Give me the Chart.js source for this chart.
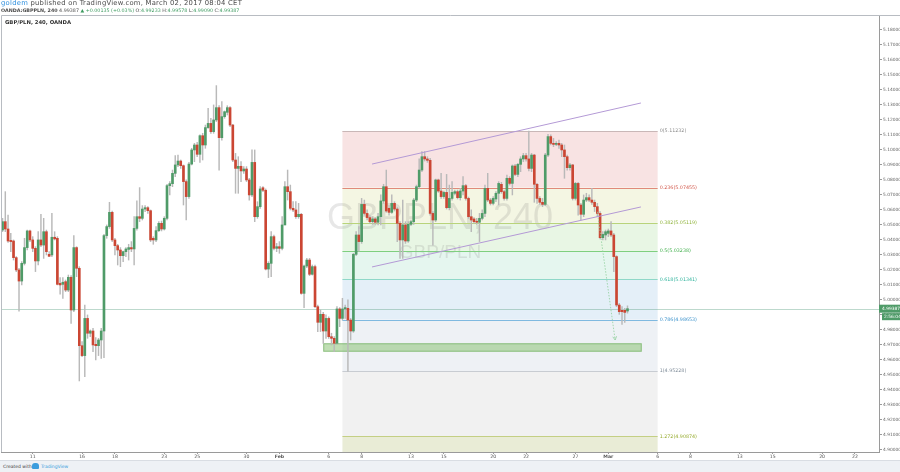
<!DOCTYPE html>
<html>
<head>
<meta charset="utf-8">
<script src="https://cdn.jsdelivr.net/npm/chart.js@4.4.0/dist/chart.umd.min.js"></script>
<style>
html,body{margin:0;padding:0;width:900px;height:472px;overflow:hidden;background:#fff;}
#hdr1,#hdr2,#sym{position:absolute;white-space:nowrap;font-family:"DejaVu Sans",sans-serif;color:#4a4a4a;}
#hdr1{left:1px;top:0px;font-size:6.8px;line-height:7px;letter-spacing:0.26px;}
#hdr2{left:1px;top:7px;font-size:4.8px;line-height:7px;}
#sym{left:5px;top:19px;font-size:5.3px;line-height:6px;font-weight:bold;color:#333;}
.g{color:#3c9a5f;}
.b{color:#2f8fdd;}
#wrap{position:absolute;left:0;top:0;width:900px;height:462px;}
#footer{position:absolute;left:0;top:460px;width:900px;height:12px;background:#eef1f5;border-top:1px solid #d9dde3;font-family:"DejaVu Sans",sans-serif;font-size:4.5px;color:#444;}
#footer span{position:absolute;top:3px;white-space:nowrap;}
#logo{position:absolute;left:32px;top:2px;width:7px;height:6px;background:#3b9ddd;border-radius:3px 3px 1px 1px;}
</style>
</head>
<body>
<div id="wrap"><canvas id="c" width="900" height="462"></canvas></div>
<div id="hdr1"><span class="b">goldem</span> published on TradingView.com, March 02, 2017 08:04 CET</div>
<div id="hdr2"><b>OANDA:GBPPLN, 240</b> 4.99387 <span class="g">&#9650; +0.00135 (+0.03%)</span> O:<span class="g">4.99233</span> H:<span class="g">4.99578</span> L:<span class="g">4.99090</span> C:<span class="g">4.99387</span></div>
<div id="sym">GBP/PLN, 240, OANDA</div>
<div id="footer"><span style="left:3px">Created with</span><div id="logo"></div><span style="left:41px;color:#3b9ddd">TradingView</span></div>
<script>
// ---- candle data (4h bars, first visible bar = index 0) ----
const opens = [
5.0463,5.0519,5.0470,5.0394,5.0390,5.0279,5.0197,5.0123,5.0241,5.0346,5.0457,
5.0397,5.0341,5.0257,5.0397,5.0363,5.0452,5.0301,5.0297,5.0415,5.0408,
5.0108,5.0101,5.0119,5.0063,5.0148,4.9930,5.0346,5.0208,4.9692,4.9626,
4.9874,4.9775,4.9790,4.9701,4.9692,4.9730,4.9790,5.0426,5.0486,5.0581,
5.0397,5.0359,5.0330,5.0292,5.0319,5.0334,5.0346,5.0337,5.0474,5.0552,
5.0541,5.0603,5.0612,5.0592,5.0408,5.0397,5.0459,5.0508,5.0470,5.0541,
5.0759,5.0772,5.0841,5.0897,5.0923,5.0892,5.0786,5.0686,5.0903,5.0997,
5.1030,5.0968,5.1092,5.1030,5.1146,5.1174,5.1119,5.1197,5.1279,5.1079,
5.1219,5.1248,5.1279,5.1163,5.0930,5.0874,5.0888,5.0857,5.0870,5.0797,
5.0697,5.0914,5.0552,5.0619,5.0745,5.0728,5.0203,5.0241,5.0419,5.0341,
5.0352,5.0341,5.0497,5.0752,5.0719,5.0608,5.0597,5.0552,5.0568,5.0041,
5.0223,5.0263,5.0168,5.0219,4.9952,4.9848,4.9901,4.9790,4.9874,4.9752,
4.9741,4.9708,4.9937,4.9874,4.9937,4.9941,4.9863,4.9790,5.0301,5.0430,
5.0386,5.0634,5.0574,5.0546,5.0519,5.0537,5.0515,5.0552,5.0657,5.0752,
5.0608,5.0581,5.0641,5.0603,5.0508,5.0397,5.0497,5.0390,5.0501,5.0519,
5.0663,5.0752,5.0863,5.0952,5.0937,5.0928,5.0574,5.0530,5.0797,5.0723,
5.0686,5.0714,5.0612,5.0674,5.0708,5.0719,5.0679,5.0723,5.0759,5.0674,
5.0552,5.0537,5.0519,5.0515,5.0541,5.0574,5.0741,5.0663,5.0641,5.0670,
5.0708,5.0768,5.0719,5.0674,5.0808,5.0774,5.0890,5.0834,5.0901,5.0937,
5.0959,5.0937,5.0874,5.0963,5.0768,5.0674,5.0648,5.0634,5.0963,5.1086,
5.1041,5.1034,5.1041,5.1030,5.0997,5.0952,5.0879,5.0897,5.0674,5.0774,
5.0630,5.0568,5.0663,5.0679,5.0663,5.0648,5.0619,5.0574,5.0412,5.0430,
5.0441,5.0457,5.0430,5.0286,4.9963,4.9928,4.9928,4.99233
];
const highs = [
5.0541,5.0719,5.0563,5.0441,5.0397,5.0286,5.0208,5.0252,5.0408,5.0463,5.0463,
5.0419,5.0352,5.0452,5.0568,5.0541,5.0463,5.0319,5.0575,5.0452,5.0419,
5.0146,5.0146,5.0130,5.0163,5.0159,5.0426,5.0352,5.0219,4.9719,4.9963,
4.9897,4.9797,4.9808,4.9746,4.9741,4.9808,5.0435,5.0497,5.0648,5.0590,
5.0408,5.0368,5.0346,5.0323,5.0346,5.0368,5.0386,5.0552,5.0657,5.0746,
5.0626,5.0626,5.0619,5.0597,5.0419,5.0486,5.0519,5.0523,5.0552,5.0768,
5.0786,5.0863,5.0959,5.0963,5.0930,5.0897,5.0797,5.0914,5.1008,5.1041,
5.1048,5.1097,5.1108,5.1163,5.1274,5.1208,5.1297,5.1426,5.1292,5.1319,
5.1257,5.1292,5.1286,5.1168,5.0974,5.0952,5.0919,5.0886,5.0886,5.0808,
5.0997,5.0997,5.0652,5.0752,5.0752,5.0737,5.0252,5.0452,5.0430,5.0374,
5.0386,5.0552,5.0786,5.0863,5.0763,5.0652,5.0652,5.0641,5.0574,5.0230,
5.0274,5.0274,5.0230,5.0230,4.9963,4.9930,4.9914,4.9897,4.9885,4.9775,
4.9752,4.9952,4.9946,5.0008,4.9963,4.9997,4.9874,5.0308,5.0452,5.0486,
5.0674,5.0663,5.0597,5.0559,5.0552,5.0546,5.0574,5.0697,5.0768,5.0863,
5.0626,5.0697,5.0652,5.0612,5.0519,5.0663,5.0519,5.0519,5.0530,5.0674,
5.0763,5.0937,5.0986,5.0986,5.0952,5.0941,5.0586,5.0803,5.0803,5.0841,
5.0723,5.0834,5.0763,5.0786,5.0730,5.0730,5.0741,5.0819,5.0768,5.0683,
5.0597,5.0546,5.0541,5.0574,5.0597,5.0763,5.0841,5.0674,5.0686,5.0719,
5.0786,5.0781,5.0730,5.0830,5.0819,5.0897,5.0901,5.0908,5.0952,5.0974,
5.0974,5.1123,5.0974,5.0968,5.0774,5.0686,5.0674,5.0974,5.1101,5.1097,
5.1074,5.1052,5.1063,5.1041,5.1030,5.0963,5.0908,5.0901,5.0781,5.0781,
5.0641,5.0697,5.0708,5.0697,5.0741,5.0663,5.0641,5.0586,5.0452,5.0463,
5.0470,5.0519,5.0441,5.0292,4.9974,4.9952,4.9941,4.99578
];
const lows = [
5.0452,5.0452,5.0381,5.0319,5.0263,5.0186,4.9923,5.0097,5.0230,5.0330,5.0386,
5.0319,5.0186,5.0230,5.0352,5.0274,5.0297,5.0286,5.0286,5.0397,5.0097,
5.0035,5.0008,5.0052,5.0052,4.9841,4.9919,5.0152,4.9457,4.9619,4.9486,
4.9741,4.9752,4.9652,4.9597,4.9626,4.9608,4.9612,5.0408,5.0474,5.0386,
5.0297,5.0230,5.0219,5.0252,5.0286,5.0263,5.0319,5.0230,5.0463,5.0519,
5.0530,5.0586,5.0574,5.0386,5.0368,5.0386,5.0452,5.0457,5.0463,5.0530,
5.0697,5.0752,5.0819,5.0886,5.0874,5.0630,5.0530,5.0674,5.0897,5.0919,
5.0952,5.0914,5.0930,5.1008,5.1141,5.1108,5.1108,5.1186,5.0863,5.1063,
5.1208,5.1230,5.1152,5.0919,5.0708,5.0708,5.0786,5.0841,5.0786,5.0663,
5.0686,5.0519,5.0541,5.0608,5.0719,5.0197,5.0146,5.0152,5.0330,5.0319,
5.0308,5.0330,5.0497,5.0663,5.0597,5.0586,5.0541,5.0541,5.0035,4.9946,
5.0212,5.0159,5.0163,4.9946,4.9786,4.9786,4.9708,4.9741,4.9741,4.9697,
4.9652,4.9701,4.9819,4.9863,4.9874,4.9523,4.9730,4.9781,5.0292,5.0323,
5.0374,5.0563,5.0530,5.0508,5.0501,5.0501,5.0497,5.0497,5.0641,5.0581,
5.0563,5.0574,5.0590,5.0386,5.0274,5.0274,5.0374,5.0381,5.0492,5.0501,
5.0652,5.0741,5.0852,5.0923,5.0914,5.0563,5.0363,5.0519,5.0714,5.0674,
5.0674,5.0603,5.0597,5.0663,5.0697,5.0670,5.0663,5.0697,5.0663,5.0541,
5.0452,5.0508,5.0501,5.0386,5.0530,5.0552,5.0652,5.0630,5.0630,5.0652,
5.0630,5.0708,5.0663,5.0663,5.0763,5.0697,5.0826,5.0819,5.0852,5.0919,
5.0923,5.0857,5.0852,5.0648,5.0641,5.0634,5.0619,5.0626,5.0952,5.1030,
5.1019,5.1026,5.1008,5.0952,5.0808,5.0863,5.0863,5.0663,5.0663,5.0563,
5.0530,5.0552,5.0652,5.0652,5.0634,5.0586,5.0552,5.0404,5.0397,5.0397,
5.0419,5.0419,5.0186,4.9952,4.9901,4.9834,4.9848,4.99090
];
const closes = [
5.0519,5.0470,5.0390,5.0386,5.0279,5.0197,5.0123,5.0241,5.0346,5.0457,5.0397,
5.0341,5.0257,5.0397,5.0363,5.0452,5.0319,5.0288,5.0415,5.0404,5.0101,
5.0097,5.0115,5.0063,5.0148,4.9930,5.0346,5.0208,4.9692,4.9626,4.9874,
4.9775,4.9790,4.9697,4.9692,4.9730,4.9790,5.0426,5.0486,5.0581,5.0397,
5.0359,5.0330,5.0292,5.0319,5.0337,5.0346,5.0337,5.0474,5.0552,5.0541,
5.0603,5.0612,5.0592,5.0397,5.0397,5.0459,5.0508,5.0470,5.0541,5.0759,
5.0772,5.0841,5.0897,5.0923,5.0892,5.0786,5.0686,5.0903,5.0997,5.1030,
5.0968,5.1092,5.1030,5.1146,5.1174,5.1119,5.1197,5.1279,5.1079,5.1219,
5.1252,5.1279,5.1163,5.0930,5.0874,5.0888,5.0857,5.0870,5.0797,5.0697,
5.0914,5.0552,5.0619,5.0737,5.0728,5.0203,5.0241,5.0419,5.0341,5.0352,
5.0341,5.0497,5.0752,5.0719,5.0608,5.0597,5.0552,5.0568,5.0041,5.0223,
5.0263,5.0168,5.0219,4.9952,4.9848,4.9901,4.9790,4.9874,4.9752,4.9741,
4.9708,4.9937,4.9874,4.9937,4.9946,4.9863,4.9790,5.0301,5.0430,5.0386,
5.0634,5.0574,5.0546,5.0519,5.0537,5.0515,5.0552,5.0657,5.0752,5.0590,
5.0581,5.0641,5.0603,5.0508,5.0397,5.0497,5.0390,5.0501,5.0519,5.0663,
5.0752,5.0863,5.0952,5.0937,5.0928,5.0574,5.0530,5.0797,5.0723,5.0686,
5.0714,5.0612,5.0674,5.0714,5.0719,5.0679,5.0723,5.0759,5.0674,5.0552,
5.0530,5.0519,5.0515,5.0541,5.0574,5.0741,5.0663,5.0641,5.0674,5.0708,
5.0774,5.0719,5.0674,5.0808,5.0774,5.0890,5.0834,5.0901,5.0937,5.0959,
5.0937,5.0874,5.0963,5.0768,5.0674,5.0648,5.0634,5.0963,5.1086,5.1041,
5.1034,5.1041,5.1030,5.0997,5.0952,5.0879,5.0897,5.0674,5.0774,5.0630,
5.0568,5.0663,5.0679,5.0663,5.0648,5.0619,5.0574,5.0412,5.0434,5.0452,
5.0457,5.0430,5.0286,4.9963,4.9919,4.9919,4.9914,4.99387
];

// ---- axis ticks ----
const dateTickBars   = [11,29,41,59,71,89,101,119,131,149,161,179,191,209,221,239,251,269,281,299,311];
const dateTickLabels = ['11','16','18','23','25','30','Feb','6','8','13','15','20','22','27','Mar','6','8','13','15','20','22'];
const priceTicks = [4.90,4.91,4.92,4.93,4.94,4.95,4.96,4.97,4.98,4.99,5.00,5.01,5.02,5.03,5.04,5.05,5.06,5.07,5.08,5.09,5.10,5.11,5.12,5.13,5.14,5.15,5.16,5.17,5.18];

// ---- drawings ----
const fibLevels = ['0','0.236','0.382','0.5','0.618','0.786','1','1.272'];
const fibPrices = [5.11232,5.07455,5.05119,5.03238,5.01341,4.98653,4.95228,4.90874];
const fibStartBar = 124, fibEndBar = 239;
const channelUpper = [{x:134.8,y:5.0903},{x:232.9,y:5.1310}];
const channelLower = [{x:134.8,y:5.0217},{x:232.9,y:5.0617}];
const targetZone = {x0:117.0, x1:233.2, yTop:4.9708, yBottom:4.9652};
const projection = [{x:217.0,y:5.0585},{x:223.5,y:4.9730}];
const lastPrice = 4.99387;
const countdown = '2:56:04';
const watermarkMain = 'GBPPLN, 240';
const watermarkSub = 'GBP/PLN';

// ---- styles ----
const UP = '#4f9b68', DOWN = '#cb4633', WICK = '#b9b9b9';
const fibFill = ['#f8e3e3','#f4f6e3','#e8f6e4','#e5f6ef','#e4eff8','#eef1f5','#f1f1f1','#e9ecd6'];
const fibLine = ['#c9b7b7','#e08a7a','#b9d37a','#7fcf7f','#8fd8c8','#7fb9e0','#c8ccd2','#c4cf84'];
const fibText = ['#8a8a8a','#d2574a','#8fb33a','#3fae4a','#2fb39c','#3d93cc','#7f8c99','#96ab2e'];
const FONT = '"DejaVu Sans", sans-serif';

const bodies = opens.map((o,i)=>({x:i, y:[o, closes[i]]}));
const wicks  = lows.map((l,i)=>({x:i, y:[l, highs[i]]}));
const bodyColors = opens.map((o,i)=> closes[i] >= o ? UP : DOWN);

const overlay = {
  id:'overlay',
  beforeDatasetsDraw(chart){
    const {ctx, chartArea:a, scales:{x,y}} = chart;
    ctx.save();
    ctx.beginPath(); ctx.rect(a.left,a.top,a.right-a.left,a.bottom-a.top); ctx.clip();
    const fx0 = x.getPixelForValue(fibStartBar), fx1 = x.getPixelForValue(fibEndBar);
    fibPrices.forEach((p,i)=>{
      const yt = y.getPixelForValue(p);
      const yb = i < fibPrices.length-1 ? y.getPixelForValue(fibPrices[i+1]) : a.bottom;
      ctx.fillStyle = fibFill[i];
      ctx.fillRect(fx0, yt, fx1-fx0, yb-yt);
    });
    // watermark
    const cx = (a.left+a.right)/2, cy = (a.top+a.bottom)/2;
    ctx.fillStyle = 'rgba(110,110,110,0.17)';
    ctx.textAlign = 'center'; ctx.textBaseline = 'middle';
    ctx.font = '36px "Liberation Sans", Arial, sans-serif';
    ctx.fillText(watermarkMain, cx, cy-15);
    ctx.font = '19px "Liberation Sans", Arial, sans-serif';
    ctx.fillText(watermarkSub, cx, cy+19);
    // fib lines
    ctx.lineWidth = 1;
    fibPrices.forEach((p,i)=>{
      const yy = Math.round(y.getPixelForValue(p))+0.5;
      ctx.strokeStyle = fibLine[i];
      ctx.beginPath(); ctx.moveTo(fx0,yy); ctx.lineTo(fx1,yy); ctx.stroke();
    });
    // last price line
    const py = Math.round(y.getPixelForValue(lastPrice))+0.5;
    ctx.strokeStyle = 'rgba(90,160,130,0.40)';
    ctx.beginPath(); ctx.moveTo(a.left,py); ctx.lineTo(a.right,py); ctx.stroke();
    // target zone
    const zx0 = x.getPixelForValue(targetZone.x0), zx1 = x.getPixelForValue(targetZone.x1);
    const zy0 = y.getPixelForValue(targetZone.yTop), zy1 = y.getPixelForValue(targetZone.yBottom);
    ctx.fillStyle = 'rgba(150,200,130,0.6)';
    ctx.fillRect(zx0, zy0, zx1-zx0, zy1-zy0);
    ctx.strokeStyle = 'rgba(120,180,105,0.7)';
    ctx.strokeRect(zx0+0.5, zy0+0.5, zx1-zx0-1, zy1-zy0-1);
    ctx.restore();
  },
  afterDatasetsDraw(chart){
    const {ctx, chartArea:a, scales:{x,y}} = chart;
    ctx.save();
    // fib labels
    const fx1 = x.getPixelForValue(fibEndBar);
    ctx.font = '4.8px ' + FONT; ctx.textAlign = 'left'; ctx.textBaseline = 'middle';
    fibPrices.forEach((p,i)=>{
      ctx.fillStyle = fibText[i];
      ctx.fillText(fibLevels[i] + '(' + p.toFixed(5) + ')', fx1+2, y.getPixelForValue(p));
    });
    // arrow head of projection
    const ex = x.getPixelForValue(projection[1].x), ey = y.getPixelForValue(projection[1].y);
    const sx = x.getPixelForValue(projection[0].x), sy = y.getPixelForValue(projection[0].y);
    const ang = Math.atan2(ey-sy, ex-sx);
    ctx.strokeStyle = '#8fcf9c'; ctx.lineWidth = 0.8;
    ctx.beginPath();
    ctx.moveTo(ex - 4*Math.cos(ang-0.5), ey - 4*Math.sin(ang-0.5));
    ctx.lineTo(ex, ey);
    ctx.lineTo(ex - 4*Math.cos(ang+0.5), ey - 4*Math.sin(ang+0.5));
    ctx.stroke();
    ctx.restore();
  },
  afterDraw(chart){
    const {ctx, chartArea:a, scales:{y}} = chart;
    ctx.save();
    // frame
    ctx.strokeStyle = '#b8bcc2'; ctx.lineWidth = 1;
    ctx.beginPath();
    ctx.moveTo(1.5, a.bottom); ctx.lineTo(1.5, a.top-0.5); ctx.lineTo(chart.width, a.top-0.5);
    ctx.stroke();
    // price label
    const py = y.getPixelForValue(lastPrice);
    ctx.fillStyle = '#4f9b68';
    ctx.fillRect(a.right, py-4, chart.width-a.right, 8);
    ctx.fillRect(a.right+3, py+4.5, chart.width-a.right-3, 7);
    ctx.fillStyle = '#fff'; ctx.font = '4.4px ' + FONT; ctx.textAlign='left'; ctx.textBaseline='middle';
    ctx.fillText(lastPrice.toFixed(5), a.right+3, py);
    ctx.fillText(countdown, a.right+5, py+8);
    ctx.restore();
  }
};

new Chart(document.getElementById('c'), {
  type:'bar',
  data:{
    datasets:[
      {type:'bar', data:bodies, backgroundColor:bodyColors, borderWidth:0, barThickness:2, grouped:false, minBarLength:1, order:1},
      {type:'bar', data:wicks, backgroundColor:WICK, borderWidth:0, barThickness:0.8, grouped:false, order:2},
      {type:'line', data:channelUpper, borderColor:'#b49ad6', borderWidth:1, pointRadius:0, order:0},
      {type:'line', data:channelLower, borderColor:'#b49ad6', borderWidth:1, pointRadius:0, order:0},
      {type:'line', data:projection, borderColor:'#8fcf9c', borderWidth:0.8, borderDash:[1.5,1.5], pointRadius:0, order:0}
    ]
  },
  options:{
    responsive:false, animation:false, devicePixelRatio:1,
    layout:{padding:{top:16,left:1,right:0,bottom:0}},
    plugins:{legend:{display:false}, tooltip:{enabled:false}},
    scales:{
      x:{type:'linear', min:-0.57, max:319.76, offset:false,
         grid:{display:true, drawOnChartArea:false, drawTicks:true, tickLength:2, color:'#9a9a9a', offset:false},
         border:{display:true, color:'#9a9a9a'},
         afterBuildTicks(s){ s.ticks = dateTickBars.map(v=>({value:v})); },
         afterFit(s){ s.height = 10; },
         ticks:{autoSkip:false, maxRotation:0, padding:0, color:'#555',
           font:(c)=>({size:4.6, family:FONT, weight:(c.tick && (c.tick.label==='Feb'||c.tick.label==='Mar'))?'bold':'normal'}),
           callback:(v,i)=>dateTickLabels[i]}
      },
      y:{type:'linear', position:'right', min:4.89833, max:5.18900,
         grid:{display:true, drawOnChartArea:false, drawTicks:true, tickLength:3, color:'#9a9a9a'},
         border:{display:true, color:'#9a9a9a'},
         afterBuildTicks(s){ s.ticks = priceTicks.map(v=>({value:v})); },
         afterFit(s){ s.width = 21; },
         ticks:{autoSkip:false, padding:1, color:'#666', font:{size:4.4, family:FONT},
           callback:(v)=>Number(v).toFixed(5)}
      }
    }
  },
  plugins:[overlay]
});
</script>
</body>
</html>
